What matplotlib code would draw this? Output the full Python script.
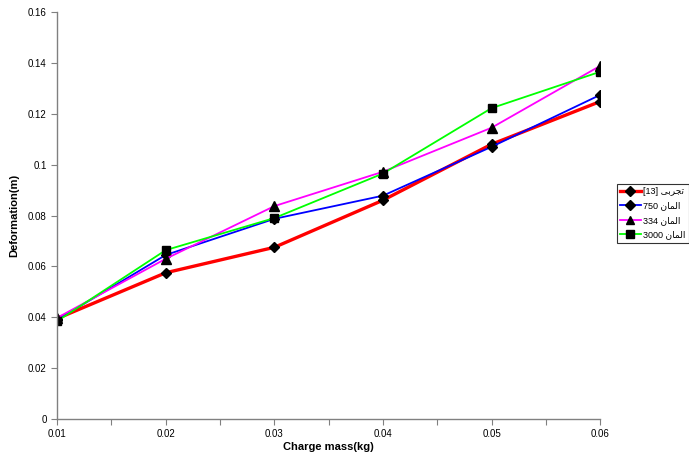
import matplotlib
matplotlib.use("Agg")
import matplotlib.pyplot as plt
from matplotlib.ticker import MultipleLocator

# Charge mass [kg]
mass = [0.01, 0.02, 0.03, 0.04, 0.05, 0.06]

# Deformation [m]
exp_13 = [0.0395, 0.0575, 0.0675, 0.086, 0.108, 0.1248]
el_750 = [0.039, 0.0645, 0.0787, 0.0878, 0.107, 0.1274]
el_334 = [0.0398, 0.063, 0.0837, 0.0972, 0.1145, 0.1388]
el_3000 = [0.0385, 0.0664, 0.079, 0.0965, 0.1222, 0.1365]

labels = ["تجربی [13]", "المان 750", "المان 334", "المان 3000"]

y_ticks = [0, 0.02, 0.04, 0.06, 0.08, 0.1, 0.12, 0.14, 0.16]
y_tick_labels = ["0", "0.02", "0.04", "0.06", "0.08", "0.1", "0.12", "0.14", "0.16"]
x_ticks = [0.01, 0.02, 0.03, 0.04, 0.05, 0.06]
x_tick_labels = ["0.01", "0.02", "0.03", "0.04", "0.05", "0.06"]

# joining forms: isolated, final, initial, medial (None = does not join left)
FORMS = {
    "ا": ("\ufe8d", "\ufe8e", None, None),
    "ر": ("\ufead", "\ufeae", None, None),
    "ل": ("\ufedd", "\ufede", "\ufedf", "\ufee0"),
    "م": ("\ufee1", "\ufee2", "\ufee3", "\ufee4"),
    "ن": ("\ufee5", "\ufee6", "\ufee7", "\ufee8"),
    "ت": ("\ufe95", "\ufe96", "\ufe97", "\ufe98"),
    "ج": ("\ufe9d", "\ufe9e", "\ufe9f", "\ufea0"),
    "ب": ("\ufe8f", "\ufe90", "\ufe91", "\ufe92"),
    "ی": ("\ufbfc", "\ufbfd", "\ufbfe", "\ufbff"),
}


def shape(word):
    out = []
    for i, ch in enumerate(word):
        f = FORMS[ch]
        prev_joins = i > 0 and FORMS[word[i - 1]][2] is not None
        next_joins = i < len(word) - 1 and f[2] is not None
        if prev_joins and next_joins:
            out.append(f[3])
        elif prev_joins:
            out.append(f[1])
        elif next_joins:
            out.append(f[2])
        else:
            out.append(f[0])
    return "".join(reversed(out))


# matplotlib draws left to right, so put the label in visual order
def visual(label):
    word, rest = label.split(" ", 1)
    return rest + " " + shape(word)


plt.rcParams["font.family"] = ["Liberation Sans", "DejaVu Sans"]

fig = plt.figure(figsize=(6.89, 4.61), dpi=100)
ax = fig.add_axes([0.083, 0.091, 0.788, 0.883])

ax.plot(mass, exp_13, color="#ff0000", lw=2.4, marker="D", ms=5.5, mfc="black", mec="black", label=visual(labels[0]))
ax.plot(mass, el_750, color="#0000ff", lw=1.3, marker="D", ms=5.5, mfc="black", mec="black", label=visual(labels[1]))
ax.plot(mass, el_334, color="#ff00ff", lw=1.3, marker="^", ms=6.5, mfc="black", mec="black", label=visual(labels[2]))
ax.plot(mass, el_3000, color="#00ff00", lw=1.3, marker="s", ms=6, mfc="black", mec="black", label=visual(labels[3]))

ax.set_xlim(0.01, 0.06)
ax.set_ylim(0, 0.16)
ax.set_xticks(x_ticks)
ax.set_xticklabels(x_tick_labels)
ax.set_yticks(y_ticks)
ax.set_yticklabels(y_tick_labels)
ax.xaxis.set_minor_locator(MultipleLocator(0.005))
ax.tick_params(axis="both", which="both", direction="out", labelsize=7, color="#808080", length=4, width=0.8)

for side in ["top", "right"]:
    ax.spines[side].set_visible(False)
for side in ["left", "bottom"]:
    ax.spines[side].set_color("#808080")
    ax.spines[side].set_linewidth(1.0)

ax.set_xlabel("Charge mass(kg)", fontsize=8, fontweight="bold", labelpad=2)
ax.set_ylabel("Deformation(m)", fontsize=8, fontweight="bold", labelpad=6)

leg = fig.legend(loc="upper left", bbox_to_anchor=(0.895, 0.601), fontsize=6.5, frameon=True,
                 fancybox=False, edgecolor="black", handlelength=2.3, borderpad=0.35,
                 labelspacing=0.6, handletextpad=0.3, borderaxespad=0, markerscale=0.85)
leg.get_frame().set_linewidth(0.8)

fig.savefig("out.png", dpi=100)
